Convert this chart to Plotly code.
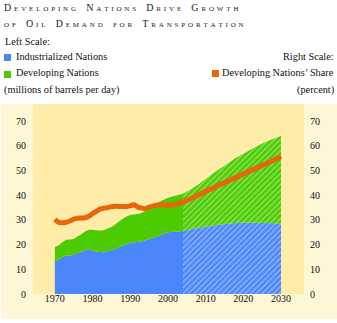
import plotly.graph_objects as go

# ---- data ----
hist_years = list(range(1970, 2005))
hist_industrialized = [13.3, 14.0, 15.0, 15.6, 15.6, 15.8, 16.5, 17.0, 17.8, 18.0,
                       17.6, 17.2, 17.0, 16.9, 17.4, 17.8, 18.3, 18.8, 19.6, 20.3,
                       20.8, 21.0, 21.1, 21.4, 21.8, 22.3, 22.8, 23.3, 23.8, 24.5,
                       25.0, 25.1, 25.2, 25.3, 25.5]
hist_developing = [5.7, 5.8, 6.0, 6.4, 6.5, 6.5, 6.8, 7.2, 7.5, 8.0,
                   8.4, 8.6, 8.7, 8.9, 9.1, 9.4, 9.9, 10.6, 10.9, 11.1,
                   11.2, 11.2, 11.3, 11.4, 11.8, 12.7, 13.2, 13.5, 13.8, 13.8,
                   14.0, 14.3, 14.6, 14.9, 15.1]

proj_years = list(range(2004, 2031, 2))
proj_industrialized = [25.5, 26.2, 26.8, 27.3, 27.8, 28.2, 28.5, 28.8, 29.0, 29.0,
                       28.9, 28.8, 28.7, 28.6]
proj_developing = [15.1, 16.1, 17.5, 19.3, 21.1, 22.8, 24.6, 26.3, 27.8, 29.6,
                   31.3, 32.9, 34.2, 35.4]

share_years = list(range(1970, 2005)) + list(range(2006, 2031, 2))
share_values = [30.2, 29.0, 28.9, 29.1, 29.6, 30.3, 30.7, 30.8, 30.9, 31.5,
                32.6, 33.5, 34.5, 34.8, 35.0, 35.4, 35.6, 35.5, 35.5, 35.5,
                35.7, 36.2, 35.2, 34.8, 34.6, 35.2, 35.6, 36.0, 36.2, 36.1,
                36.0, 36.0, 36.2, 36.8, 37.3,
                38.6, 40.0, 41.6, 43.0, 44.5, 45.8, 47.2, 48.6, 50.0, 51.4,
                52.8, 54.2, 55.8]

y_ticks = [0, 10, 20, 30, 40, 50, 60, 70]
x_ticks = [1970, 1980, 1990, 2000, 2010, 2020, 2030]

title_line1 = "Developing Nations Drive Growth"
title_line2 = "of Oil Demand for Transportation"

# ---- style ----
BLUE = "#4a86fa"
GREEN = "#4ccc00"
ORANGE = "#e8650a"
PANEL = "#fef6d4"
PLOTBG = "#feeca8"
SERIF = "Liberation Serif, Times New Roman, DejaVu Serif, serif"

W, H = 337, 323
L, R, T, B = 33, 33, 104, 29
PW, PH = W - L - R, H - T - B


def px(x):
    return (x - L) / PW


def py(y):
    return (H - B - y) / PH


def spaced(s):
    gap = "\u2009\u200a"
    return gap.join(s).replace(gap + " " + gap, gap + " " + gap + "\u2009")


fig = go.Figure()

fig.add_trace(go.Scatter(x=hist_years, y=hist_industrialized, stackgroup="hist",
                         mode="none", fillcolor=BLUE, hoverinfo="skip"))
fig.add_trace(go.Scatter(x=hist_years, y=hist_developing, stackgroup="hist",
                         mode="none", fillcolor=GREEN, hoverinfo="skip"))
pat = dict(shape="/", fgcolor="rgba(255,255,255,0.8)", size=4, solidity=0.35,
           fillmode="overlay")
fig.add_trace(go.Scatter(x=proj_years, y=proj_industrialized, stackgroup="proj",
                         mode="none", fillcolor=BLUE, fillpattern=pat, hoverinfo="skip"))
fig.add_trace(go.Scatter(x=proj_years, y=proj_developing, stackgroup="proj",
                         mode="none", fillcolor=GREEN, fillpattern=pat, hoverinfo="skip"))
fig.add_trace(go.Scatter(x=share_years, y=share_values, mode="lines", yaxis="y2",
                         line=dict(color=ORANGE, width=5, shape="spline", smoothing=0.6),
                         hoverinfo="skip"))

shapes = [
    dict(type="rect", xref="paper", yref="paper", x0=px(1), x1=px(337), y0=py(319), y1=py(104),
         fillcolor=PANEL, line_width=0, layer="below"),
    dict(type="rect", xref="paper", yref="paper", x0=0, x1=1, y0=0, y1=1,
         fillcolor=PLOTBG, line_width=0, layer="below"),
    dict(type="rect", xref="paper", yref="paper", x0=px(4), x1=px(11), y0=py(61), y1=py(54),
         fillcolor=BLUE, line_width=0),
    dict(type="rect", xref="paper", yref="paper", x0=px(4), x1=px(11), y0=py(78), y1=py(71),
         fillcolor=GREEN, line_width=0),
    dict(type="rect", xref="paper", yref="paper", x0=px(212), x1=px(219), y0=py(77), y1=py(70),
         fillcolor=ORANGE, line_width=0),
]

tf = dict(family=SERIF, size=10, color="#222", variant="small-caps")
lf = dict(family=SERIF, size=10.3, color="#111")


def ann(text, x, y, xanchor="left", font=lf):
    return dict(text=text, xref="paper", yref="paper", x=px(x), y=py(y), xanchor=xanchor,
                yanchor="middle", showarrow=False, font=font)


annotations = [
    ann(spaced(title_line1), 2, 7, font=tf),
    ann(spaced(title_line2), 2, 23, font=tf),
    ann("Left Scale:", 3, 41),
    ann("Industrialized Nations", 14, 57),
    ann("Developing Nations", 14, 73),
    ann("(millions of barrels per day)", 2, 90),
    ann("Right Scale:", 336, 57, "right"),
    ann("Developing Nations\u2019 Share", 336, 73, "right"),
    ann("(percent)", 336, 90, "right"),
]

axis_font = dict(family=SERIF, size=10, color="#111")
fig.update_layout(
    width=W, height=H, margin=dict(l=L, r=R, t=T, b=B),
    paper_bgcolor="white", plot_bgcolor="rgba(0,0,0,0)",
    showlegend=False, shapes=shapes, annotations=annotations,
    xaxis=dict(range=[1964.2, 2036.1], tickvals=x_ticks, showgrid=False, zeroline=False,
               showline=False, ticks="", tickfont=axis_font, ticklabelstandoff=-3),
    yaxis=dict(range=[0, 77], tickvals=y_ticks, showgrid=False, zeroline=False,
               showline=False, ticks="", tickfont=axis_font, ticklabelstandoff=6),
    yaxis2=dict(range=[0, 77], tickvals=y_ticks, overlaying="y", side="right",
                showgrid=False, zeroline=False, showline=False, ticks="",
                tickfont=axis_font, ticklabelstandoff=5),
)

fig.write_html("out.html")
